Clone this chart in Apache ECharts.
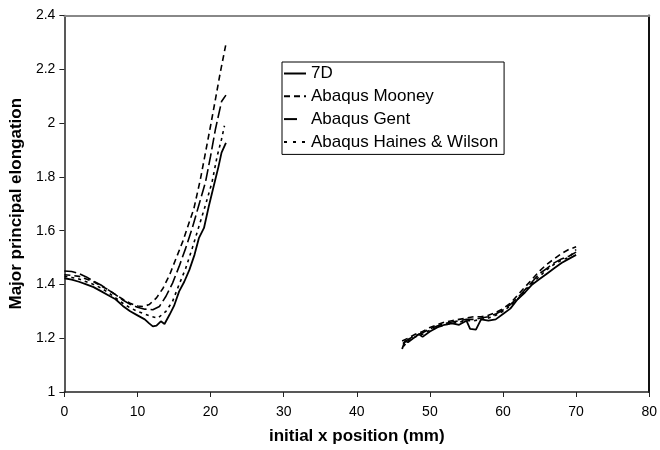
<!DOCTYPE html>
<html>
<head>
<meta charset="utf-8">
<script src="https://cdn.jsdelivr.net/npm/echarts@6/dist/echarts.min.js"></script>
<style>
html,body{margin:0;padding:0;background:#fff;}
#chart{width:660px;height:450px;}
</style>
</head>
<body>
<div id="chart"></div>
<script>
// ---- data ----
const seriesNames = ['7D', 'Abaqus Mooney', 'Abaqus Gent', 'Abaqus Haines & Wilson'];
const xTicks = [0, 10, 20, 30, 40, 50, 60, 70, 80];
const yTicks = [1, 1.2, 1.4, 1.6, 1.8, 2, 2.2, 2.4];

// left region (x = 0 .. 22 mm)
const x7D_L  = [0, 1, 2, 3, 4, 5, 6, 7, 8, 9, 10, 11, 11.6, 12.1, 12.6, 13.2, 13.7, 14.4, 15, 15.7, 16.4, 17.1, 17.8, 18.4, 19.1, 19.75, 20.2, 20.65, 21.1, 21.5, 22.1];
const y7D_L  = [1.423, 1.418, 1.41, 1.4, 1.39, 1.375, 1.36, 1.345, 1.32, 1.3, 1.285, 1.27, 1.255, 1.244, 1.247, 1.263, 1.253, 1.288, 1.32, 1.374, 1.41, 1.454, 1.51, 1.572, 1.61, 1.69, 1.74, 1.79, 1.84, 1.89, 1.926];

const xMoo_L = [0, 1, 2, 3, 4, 5, 6, 7, 8, 9, 10, 10.8, 11.6, 12.6, 13.5, 14.4, 15.3, 16.2, 17.1, 17.7, 18.6, 19.3, 20, 20.65, 21.3, 22.1];
const yMoo_L = [1.436, 1.434, 1.43, 1.42, 1.41, 1.395, 1.38, 1.362, 1.345, 1.33, 1.32, 1.318, 1.325, 1.35, 1.386, 1.436, 1.498, 1.56, 1.633, 1.68, 1.79, 1.89, 1.99, 2.086, 2.184, 2.294];

const xGen_L = [0, 1, 2, 3, 4, 5, 6, 7, 8, 9, 10, 11, 12.1, 13, 13.9, 14.8, 15.7, 16.6, 17.5, 18.4, 19.3, 20, 20.65, 21.5, 22.1];
const yGen_L = [1.45, 1.448, 1.44, 1.428, 1.412, 1.398, 1.38, 1.362, 1.342, 1.326, 1.315, 1.308, 1.306, 1.318, 1.356, 1.405, 1.467, 1.535, 1.61, 1.695, 1.78, 1.877, 1.975, 2.08, 2.104];

const xHW_L  = [0, 1, 2, 3, 4, 5, 6, 7, 8, 9, 10, 11, 12, 12.8, 13.9, 14.8, 15.7, 16.6, 17.5, 18.4, 19.3, 20.2, 20.9, 21.5, 21.9];
const yHW_L  = [1.43, 1.426, 1.42, 1.41, 1.4, 1.387, 1.37, 1.35, 1.33, 1.313, 1.3, 1.29, 1.28, 1.275, 1.3, 1.337, 1.4, 1.46, 1.535, 1.615, 1.695, 1.78, 1.877, 1.94, 1.99];

// right region (x = 46 .. 70 mm)
const x7D_R  = [46.2, 46.6, 47, 48, 48.5, 49, 50, 51, 52, 53, 54, 55, 55.5, 56.3, 57, 58, 59, 60, 61, 62, 63, 64, 65, 66, 67, 68, 69, 70];
const y7D_R  = [1.16, 1.19, 1.185, 1.205, 1.215, 1.205, 1.225, 1.24, 1.25, 1.255, 1.25, 1.265, 1.235, 1.232, 1.27, 1.265, 1.27, 1.29, 1.31, 1.345, 1.37, 1.4, 1.42, 1.44, 1.46, 1.48, 1.495, 1.51];

const xMoo_R = [46.2, 47, 48, 49, 50, 51, 52, 53, 54, 55, 56, 57, 58, 59, 60, 61, 62, 63, 64, 65, 66, 67, 68, 69, 70];
const yMoo_R = [1.19, 1.2, 1.215, 1.225, 1.24, 1.25, 1.26, 1.265, 1.27, 1.275, 1.28, 1.28, 1.285, 1.295, 1.31, 1.33, 1.36, 1.39, 1.42, 1.45, 1.475, 1.495, 1.515, 1.53, 1.54];

const xGen_R = [46.3, 47, 48, 49, 50, 51, 52, 53, 54, 55, 56, 57, 58, 59, 60, 61, 62, 63, 64, 65, 66, 67, 68, 69, 70];
const yGen_R = [1.18, 1.195, 1.21, 1.22, 1.235, 1.245, 1.255, 1.26, 1.265, 1.27, 1.27, 1.275, 1.28, 1.29, 1.305, 1.325, 1.35, 1.38, 1.41, 1.44, 1.46, 1.48, 1.495, 1.505, 1.52];

const xHW_R  = [46.4, 47, 48, 49, 50, 51, 52, 53, 54, 55, 56, 57, 58, 59, 60, 61, 62, 63, 64, 65, 66, 67, 68, 69, 70];
const yHW_R  = [1.17, 1.19, 1.205, 1.215, 1.23, 1.24, 1.25, 1.255, 1.26, 1.265, 1.265, 1.27, 1.275, 1.285, 1.3, 1.32, 1.345, 1.375, 1.405, 1.43, 1.455, 1.475, 1.49, 1.5, 1.53];

// ---- build ----
function pairs(xs, ys) { return xs.map((x, i) => [x, ys[i]]); }
function joined(xl, yl, xr, yr) {
  return pairs(xl, yl).concat([[34, '-']], pairs(xr, yr));
}
const dataSets = [
  joined(x7D_L, y7D_L, x7D_R, y7D_R),
  joined(xMoo_L, yMoo_L, xMoo_R, yMoo_R),
  joined(xGen_L, yGen_L, xGen_R, yGen_R),
  joined(xHW_L, yHW_L, xHW_R, yHW_R)
];
const dashTypes = ['solid', [6, 4], [12, 4], [3, 4]];
const legendDash = ['solid', [6, 4], [13, 9], [3, 6]];

const FONT = "'Liberation Sans', Arial, sans-serif";
const chart = echarts.init(document.getElementById('chart'), null, {renderer: 'canvas'});

const option = {
  animation: false,
  backgroundColor: '#ffffff',
  textStyle: {fontFamily: FONT, color: '#000'},
  grid: {left: 60, right: 6, top: 15.5, bottom: 55.3, containLabel: false},
  legend: {
    data: seriesNames.map((n, i) => ({
      name: n,
      itemStyle: {opacity: 0, borderWidth: 0},
      lineStyle: {color: '#000', width: 2, type: legendDash[i]}
    })),
    orient: 'vertical',
    left: 282, top: 62,
    padding: [3, 6, 4, 1],
    itemGap: 5.8,
    itemWidth: 22, itemHeight: 14,
    borderColor: '#000', borderWidth: 1,
    backgroundColor: '#fff',
    itemStyle: {opacity: 0, borderWidth: 0},
    textStyle: {fontFamily: FONT, fontSize: 17, lineHeight: 17, color: '#000'}
  },
  xAxis: [{
    type: 'value', position: 'bottom',
    min: xTicks[0], max: xTicks[xTicks.length - 1], interval: xTicks[1] - xTicks[0],
    name: 'initial x position (mm)', nameLocation: 'middle', nameGap: 36,
    nameTextStyle: {fontFamily: FONT, fontSize: 17, fontWeight: 'bold', color: '#000'},
    axisLine: {onZero: false, lineStyle: {color: '#222', width: 1.5}},
    axisTick: {show: true, length: 5, lineStyle: {color: '#222', width: 1}},
    axisLabel: {fontFamily: FONT, fontSize: 14, color: '#000', margin: 13},
    splitLine: {show: false}
  }, {
    type: 'value', position: 'top',
    min: xTicks[0], max: xTicks[xTicks.length - 1],
    axisLine: {onZero: false, lineStyle: {color: '#888', width: 2}},
    axisTick: {show: false}, axisLabel: {show: false}, splitLine: {show: false}
  }],
  yAxis: [{
    type: 'value', position: 'left',
    min: yTicks[0], max: yTicks[yTicks.length - 1], interval: 0.2,
    name: 'Major principal elongation', nameLocation: 'middle', nameGap: 34,
    nameTextStyle: {fontFamily: FONT, fontSize: 17, fontWeight: 'bold', color: '#000'},
    axisLine: {onZero: false, lineStyle: {color: '#222', width: 1.5}},
    axisTick: {show: true, length: 5, lineStyle: {color: '#222', width: 1}},
    axisLabel: {fontFamily: FONT, fontSize: 14, color: '#000', margin: 9,
      formatter: v => String(Math.round(v * 10) / 10)},
    splitLine: {show: false}
  }, {
    type: 'value', position: 'right',
    min: yTicks[0], max: yTicks[yTicks.length - 1],
    axisLine: {onZero: false, lineStyle: {color: '#111', width: 2}},
    axisTick: {show: false}, axisLabel: {show: false}, splitLine: {show: false}
  }],
  series: seriesNames.map((name, i) => ({
    name: name,
    type: 'line',
    xAxisIndex: 0, yAxisIndex: 0,
    data: dataSets[i],
    showSymbol: false, symbol: 'none',
    connectNulls: false,
    lineStyle: {color: '#000', width: i === 0 ? 1.8 : 1.6, type: dashTypes[i]},
    itemStyle: {color: '#000'},
    z: 3
  }))
};
chart.setOption(option);
</script>
</body>
</html>
